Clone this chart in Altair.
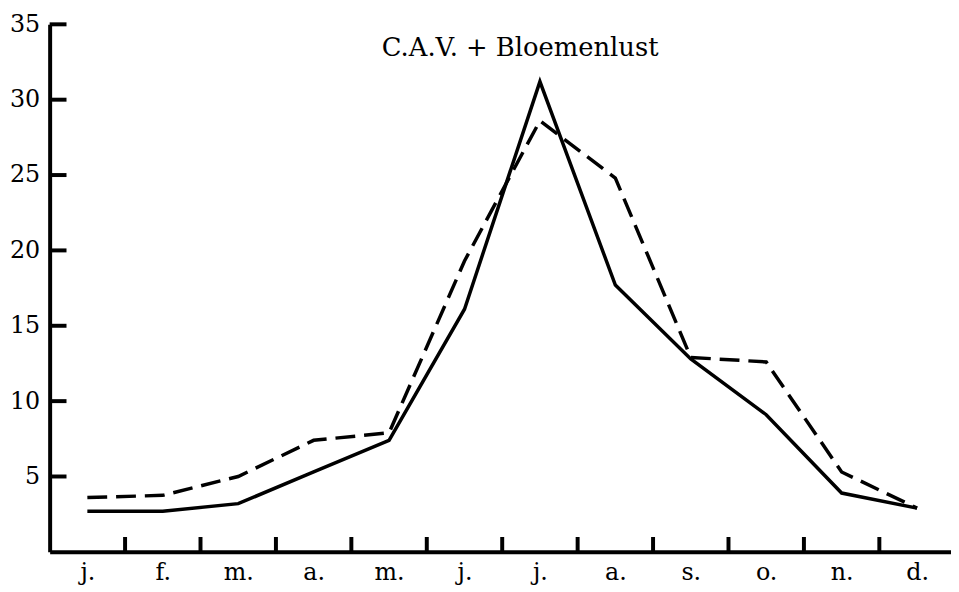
import altair as alt
import pandas as pd

months = ["j.", "f.", "m.", "a.", "m.", "j.", "j.", "a.", "s.", "o.", "n.", "d."]
solid = [2.7, 2.7, 3.2, 5.3, 7.4, 16.1, 31.2, 17.7, 12.8, 9.1, 3.9, 2.9]
dashed = [3.6, 3.75, 5.0, 7.4, 7.9, 19.3, 28.6, 24.8, 12.9, 12.6, 5.3, 2.9]
y_ticks = [5, 10, 15, 20, 25, 30, 35]
x_ticks = list(range(1, 12))
title_text = "C.A.V. + Bloemenlust"

FONT = "DejaVu Serif"
W, H = 909, 532

pos = [i + 0.5 for i in range(len(months))]
df_solid = pd.DataFrame({"x": pos, "y": solid})
df_dashed = pd.DataFrame({"x": pos, "y": dashed})
df_yt = pd.DataFrame({"y": y_ticks})
df_xt = pd.DataFrame({"x": x_ticks})

label_list = "[" + ",".join(f"'{m}'" for m in months) + "]"

xscale = alt.Scale(domain=[0, 11.95], nice=False, zero=False)
yscale = alt.Scale(domain=[0, 35], nice=False)

xaxis = alt.Axis(
    values=pos, labelExpr=f"{label_list}[floor(datum.value)]", ticks=False,
    grid=False, domainWidth=4, domainColor="black", labelFont=FONT,
    labelFontSize=24, labelColor="black", labelPadding=9, title=None,
    labelAngle=0,
)
yaxis = alt.Axis(
    values=y_ticks, ticks=False, grid=False, domainWidth=4, domainColor="black",
    labelFont=FONT, labelFontSize=24, labelColor="black", labelPadding=10,
    title=None,
)

line_solid = alt.Chart(df_solid).mark_line(
    color="black", strokeWidth=3.5, strokeJoin="miter"
).encode(
    x=alt.X("x:Q", scale=xscale, axis=xaxis),
    y=alt.Y("y:Q", scale=yscale, axis=yaxis),
)

line_dashed = alt.Chart(df_dashed).mark_line(
    color="black", strokeWidth=3.5, strokeDash=[20, 9]
).encode(
    x=alt.X("x:Q", scale=xscale),
    y=alt.Y("y:Q", scale=yscale),
)

ytick_rules = alt.Chart(df_yt).mark_rule(color="black", strokeWidth=4).encode(
    y=alt.Y("y:Q", scale=yscale),
    x=alt.value(0),
    x2=alt.value(17),
)

xtick_rules = alt.Chart(df_xt).mark_rule(color="black", strokeWidth=4).encode(
    x=alt.X("x:Q", scale=xscale),
    y=alt.value(H),
    y2=alt.value(H - 15),
)

chart = alt.layer(ytick_rules, xtick_rules, line_dashed, line_solid).properties(
    width=W,
    height=H,
    title=alt.Title(
        title_text, font=FONT, fontSize=26, fontWeight="normal", color="black",
        anchor="middle", dx=20, dy=53,
    ),
    autosize=alt.AutoSizeParams(type="none"),
    padding={"left": 42, "top": 14, "right": 0, "bottom": 36},
).configure(background="white").configure_view(stroke=None)

chart.save("out.html", embed_options={"renderer": "svg", "actions": False})
